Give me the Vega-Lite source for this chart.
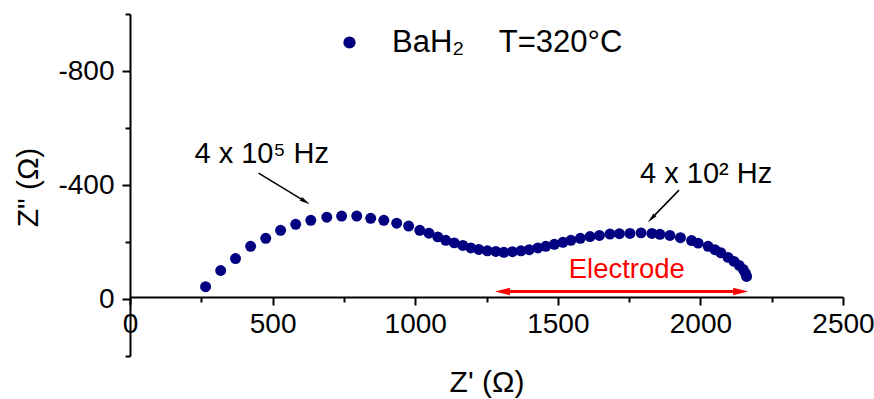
{
  "$schema": "https://vega.github.io/schema/vega-lite/v6.json",
  "width": 713,
  "height": 342,
  "autosize": {"type": "none"},
  "padding": {"left": 130, "top": 14, "right": 31, "bottom": 43},
  "background": "white",
  "config": {
    "font": "Liberation Sans",
    "view": {"stroke": null},
    "axis": {
      "grid": false,
      "domainColor": "black",
      "domainWidth": 2,
      "tickColor": "black",
      "tickWidth": 2,
      "labelColor": "black",
      "titleColor": "black",
      "labelFont": "Liberation Sans",
      "titleFont": "Liberation Sans",
      "titleFontWeight": "normal",
      "labelOverlap": false,
      "labelFlush": false
    }
  },
  "layer": [
    {
      "data": {
        "values": [
          {"zr": 265, "zi": -43, "sample": "BaH2"},
          {"zr": 318, "zi": -100, "sample": "BaH2"},
          {"zr": 370, "zi": -142, "sample": "BaH2"},
          {"zr": 423, "zi": -185, "sample": "BaH2"},
          {"zr": 476, "zi": -213, "sample": "BaH2"},
          {"zr": 528, "zi": -241, "sample": "BaH2"},
          {"zr": 581, "zi": -262, "sample": "BaH2"},
          {"zr": 634, "zi": -276, "sample": "BaH2"},
          {"zr": 690, "zi": -287, "sample": "BaH2"},
          {"zr": 742, "zi": -291, "sample": "BaH2"},
          {"zr": 795, "zi": -291, "sample": "BaH2"},
          {"zr": 844, "zi": -283, "sample": "BaH2"},
          {"zr": 890, "zi": -276, "sample": "BaH2"},
          {"zr": 935, "zi": -266, "sample": "BaH2"},
          {"zr": 977, "zi": -256, "sample": "BaH2"},
          {"zr": 1016, "zi": -241, "sample": "BaH2"},
          {"zr": 1048, "zi": -231, "sample": "BaH2"},
          {"zr": 1079, "zi": -218, "sample": "BaH2"},
          {"zr": 1107, "zi": -206, "sample": "BaH2"},
          {"zr": 1137, "zi": -197, "sample": "BaH2"},
          {"zr": 1167, "zi": -188, "sample": "BaH2"},
          {"zr": 1195, "zi": -179, "sample": "BaH2"},
          {"zr": 1223, "zi": -174, "sample": "BaH2"},
          {"zr": 1253, "zi": -169, "sample": "BaH2"},
          {"zr": 1283, "zi": -167, "sample": "BaH2"},
          {"zr": 1311, "zi": -164, "sample": "BaH2"},
          {"zr": 1341, "zi": -166, "sample": "BaH2"},
          {"zr": 1371, "zi": -169, "sample": "BaH2"},
          {"zr": 1400, "zi": -173, "sample": "BaH2"},
          {"zr": 1430, "zi": -179, "sample": "BaH2"},
          {"zr": 1458, "zi": -185, "sample": "BaH2"},
          {"zr": 1488, "zi": -192, "sample": "BaH2"},
          {"zr": 1518, "zi": -199, "sample": "BaH2"},
          {"zr": 1546, "zi": -206, "sample": "BaH2"},
          {"zr": 1579, "zi": -213, "sample": "BaH2"},
          {"zr": 1613, "zi": -219, "sample": "BaH2"},
          {"zr": 1646, "zi": -223, "sample": "BaH2"},
          {"zr": 1683, "zi": -228, "sample": "BaH2"},
          {"zr": 1716, "zi": -229, "sample": "BaH2"},
          {"zr": 1753, "zi": -230, "sample": "BaH2"},
          {"zr": 1792, "zi": -232, "sample": "BaH2"},
          {"zr": 1830, "zi": -230, "sample": "BaH2"},
          {"zr": 1858, "zi": -227, "sample": "BaH2"},
          {"zr": 1893, "zi": -223, "sample": "BaH2"},
          {"zr": 1930, "zi": -215, "sample": "BaH2"},
          {"zr": 1969, "zi": -205, "sample": "BaH2"},
          {"zr": 1992, "zi": -196, "sample": "BaH2"},
          {"zr": 2027, "zi": -185, "sample": "BaH2"},
          {"zr": 2051, "zi": -173, "sample": "BaH2"},
          {"zr": 2072, "zi": -162, "sample": "BaH2"},
          {"zr": 2097, "zi": -146, "sample": "BaH2"},
          {"zr": 2118, "zi": -132, "sample": "BaH2"},
          {"zr": 2136, "zi": -118, "sample": "BaH2"},
          {"zr": 2150, "zi": -104, "sample": "BaH2"},
          {"zr": 2158, "zi": -90, "sample": "BaH2"},
          {"zr": 2162, "zi": -79, "sample": "BaH2"}
        ]
      },
      "mark": {"type": "point", "shape": "circle", "filled": true, "opacity": 1, "size": 120},
      "encoding": {
        "x": {
          "field": "zr",
          "type": "quantitative",
          "scale": {"domain": [0, 2500], "nice": false, "zero": false},
          "axis": {
            "title": "Z' (Ω)",
            "values": [0, 250, 500, 750, 1000, 1250, 1500, 1750, 2000, 2250, 2500],
            "format": "d",
            "labelExpr": "datum.value % 500 === 0 ? datum.label : ''",
            "tickSize": {"condition": {"test": "datum.value % 500 === 0", "value": 8}, "value": 5},
            "offset": -59,
            "labelFontSize": 28,
            "labelPadding": 5,
            "titleFontSize": 30,
            "titleY": 94,
            "titleBaseline": "alphabetic"
          }
        },
        "y": {
          "field": "zi",
          "type": "quantitative",
          "scale": {"domain": [-1000, 200], "reverse": true, "nice": false, "zero": false},
          "axis": {
            "title": "Z\" (Ω)",
            "values": [-1000, -800, -600, -400, -200, 0, 200],
            "labelExpr": "(datum.value % 400 === 0 && datum.value <= 0) ? toString(datum.value) : ''",
            "tickSize": {"condition": {"test": "datum.value % 400 === 0 && datum.value <= 0", "value": 8}, "value": 5},
            "labelFontSize": 28,
            "labelPadding": 8,
            "titleFontSize": 30,
            "titleAngle": -90,
            "titleX": -102,
            "titleY": 173,
            "titleAlign": "center",
            "titleBaseline": "middle"
          }
        },
        "color": {
          "field": "sample",
          "type": "nominal",
          "scale": {"range": ["#000080"]},
          "legend": {
            "title": null,
            "orient": "none",
            "legendX": 204,
            "legendY": 13,
            "padding": 0,
            "symbolType": "circle",
            "symbolSize": 150,
            "symbolStrokeWidth": 0,
            "labelFontSize": 31,
            "labelFont": "Liberation Sans",
            "labelColor": "black",
            "labelOffset": 27,
            "labelLimit": 500,
            "labelExpr": "'BaH₂\u00a0\u00a0\u00a0\u00a0T=320°C'"
          }
        }
      }
    },
    {
      "data": {"values": [{}]},
      "mark": {"type": "text", "fontSize": 29, "align": "center", "baseline": "alphabetic", "color": "black"},
      "encoding": {"x": {"datum": 462}, "y": {"datum": -478}, "text": {"value": "4 x 10⁵ Hz"}}
    },
    {
      "data": {"values": [{}]},
      "mark": {"type": "text", "fontSize": 29, "align": "center", "baseline": "alphabetic", "color": "black"},
      "encoding": {"x": {"datum": 2020}, "y": {"datum": -408}, "text": {"value": "4 x 10² Hz"}}
    },
    {
      "data": {"values": [{}]},
      "mark": {"type": "text", "fontSize": 27.5, "align": "center", "baseline": "alphabetic", "color": "#ff0000"},
      "encoding": {"x": {"datum": 1742}, "y": {"datum": -73}, "text": {"value": "Electrode"}}
    },
    {
      "data": {"values": [{}]},
      "mark": {"type": "rule", "color": "black", "strokeWidth": 1.5},
      "encoding": {"x": {"datum": 451}, "y": {"datum": -442}, "x2": {"datum": 615}, "y2": {"datum": -342}}
    },
    {
      "data": {"values": [{}]},
      "mark": {"type": "rule", "color": "black", "strokeWidth": 1.5},
      "encoding": {"x": {"datum": 1925}, "y": {"datum": -382}, "x2": {"datum": 1828}, "y2": {"datum": -282}}
    },
    {
      "data": {"values": [{}]},
      "mark": {"type": "point", "shape": "M1,0L-1,-0.4L-1,0.4Z", "filled": true, "opacity": 1, "color": "black", "size": 110, "angle": 31},
      "encoding": {"x": {"datum": 615}, "y": {"datum": -342}}
    },
    {
      "data": {"values": [{}]},
      "mark": {"type": "point", "shape": "M1,0L-1,-0.4L-1,0.4Z", "filled": true, "opacity": 1, "color": "black", "size": 110, "angle": 134},
      "encoding": {"x": {"datum": 1828}, "y": {"datum": -282}}
    },
    {
      "data": {"values": [{}]},
      "mark": {"type": "rule", "color": "#ff0000", "strokeWidth": 3},
      "encoding": {"x": {"datum": 1306}, "y": {"datum": -26}, "x2": {"datum": 2141}}
    },
    {
      "data": {"values": [{}]},
      "mark": {"type": "point", "shape": "M-1,0L1,-0.5L1,0.5Z", "filled": true, "opacity": 1, "color": "#ff0000", "size": 225},
      "encoding": {"x": {"datum": 1306}, "y": {"datum": -26}}
    },
    {
      "data": {"values": [{}]},
      "mark": {"type": "point", "shape": "M1,0L-1,-0.5L-1,0.5Z", "filled": true, "opacity": 1, "color": "#ff0000", "size": 225},
      "encoding": {"x": {"datum": 2141}, "y": {"datum": -26}}
    }
  ]
}
